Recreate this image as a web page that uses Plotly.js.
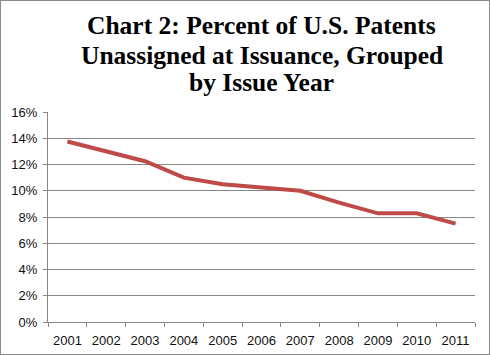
<!DOCTYPE html>
<html><head><meta charset="utf-8">
<script src="https://cdn.plot.ly/plotly-3.0.1.min.js"></script>
<style>
html,body{margin:0;padding:0;background:#fff;}
#wrap{width:488px;height:353px;border:1px solid #8a8a8a;}
#chart{width:488px;height:353px;}
</style></head>
<body><div id="wrap"><div id="chart"></div></div>
<script>
const years = ['2001','2002','2003','2004','2005','2006','2007','2008','2009','2010','2011'];
const pctUnassigned = [0.1375, 0.130, 0.1225, 0.110, 0.105, 0.1025, 0.100, 0.091, 0.0828, 0.0828, 0.075];
const yTicks = [0,0.02,0.04,0.06,0.08,0.10,0.12,0.14,0.16];
const titleLines = ['Chart 2: Percent of U.S. Patents', 'Unassigned at Issuance, Grouped', 'by Issue Year'];
const titleY = [1.414, 1.271, 1.14];

const titleFont = {family: '"Liberation Serif", serif', size: 25.5, color: '#000', weight: 'bold'};
const annotations = titleLines.map((t, i) => ({
  text: '<b>' + t + '</b>', xref: 'paper', yref: 'paper', x: 0.5, y: titleY[i],
  xanchor: 'center', yanchor: 'middle', showarrow: false, font: titleFont
}));

Plotly.newPlot('chart', [{
  x: years, y: pctUnassigned, type: 'scatter', mode: 'lines',
  line: {color: '#BE4B48', width: 4}, hoverinfo: 'none'
}], {
  width: 488, height: 353,
  margin: {l: 47, r: 14, t: 111, b: 32},
  paper_bgcolor: '#fff', plot_bgcolor: '#fff',
  showlegend: false,
  annotations: annotations,
  xaxis: {type: 'category', range: [-0.5, 10.5], tickson: 'boundaries', ticks: 'outside', ticklen: 4, tickcolor: '#868686',
          showline: true, linecolor: '#868686', linewidth: 1, showgrid: false, ticklabelstandoff: 6,
          tickfont: {family: '"Liberation Sans", sans-serif', size: 13, color: '#111'}},
  yaxis: {range: [0, 0.16], tickvals: yTicks, tickformat: '.0%', ticks: 'outside', ticklen: 4,
          tickcolor: '#868686', showline: true, linecolor: '#868686', linewidth: 1,
          showgrid: true, gridcolor: '#868686', gridwidth: 1, zeroline: false, ticklabelstandoff: 3,
          tickfont: {family: '"Liberation Sans", sans-serif', size: 13, color: '#111'}}
}, {staticPlot: true});
</script></body></html>
